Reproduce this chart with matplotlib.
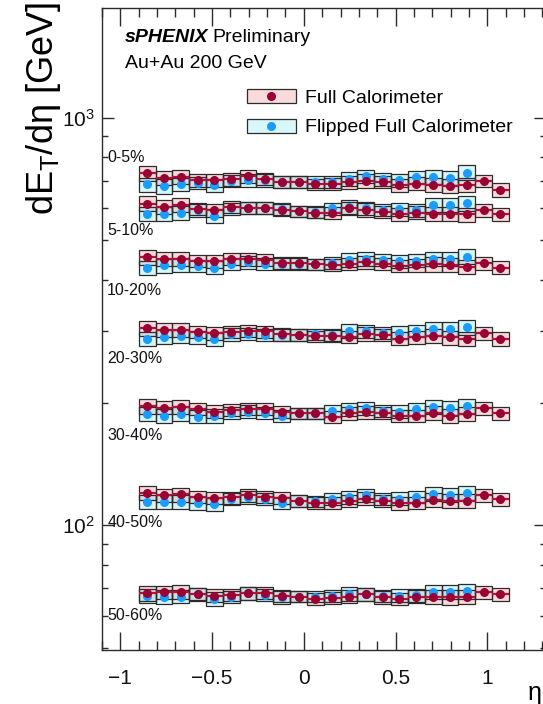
import numpy as np
import matplotlib.pyplot as plt
from matplotlib.patches import Rectangle
from matplotlib.lines import Line2D
from matplotlib.legend_handler import HandlerTuple
from matplotlib.ticker import LogLocator, MultipleLocator, NullFormatter

plt.rcParams['font.family'] = ['Liberation Sans', 'DejaVu Sans']
plt.rcParams['mathtext.fontset'] = 'custom'
plt.rcParams['mathtext.rm'] = 'Liberation Sans'
plt.rcParams['mathtext.it'] = 'Liberation Sans:italic'

# eta binning (22 bins shown for the full calorimeter, 20 for the flipped one)
eta_lo, eta_w, n_bins = -0.9, 0.0917, 22
eta_edges = eta_lo + eta_w * np.arange(n_bins + 1)
eta = 0.5 * (eta_edges[:-1] + eta_edges[1:])
n_flip = 20

centralities = ['0-5%', '5-10%', '10-20%', '20-30%', '30-40%', '40-50%', '50-60%']

full_vals = [
    [730, 712, 716, 702, 702, 706, 719, 709, 696, 696, 687, 689, 695, 700, 695, 683, 689, 683, 680, 683, 700, 666],
    [616, 604, 610, 596, 593, 604, 601, 601, 593, 590, 585, 584, 599, 595, 587, 579, 585, 582, 582, 579, 593, 580],
    [455, 450, 450, 445, 444, 450, 450, 448, 441, 440, 437, 435, 438, 442, 438, 433, 435, 437, 435, 431, 440, 429],
    [305, 302, 302, 298, 296, 298, 300, 299, 294, 293, 291, 292, 290, 295, 293, 287, 289, 292, 289, 287, 296, 287],
    [196.2, 194.4, 194.8, 192.6, 190.1, 191.8, 192.9, 192.6, 190.1, 188.3, 188.3, 184.8, 188.3, 189.3, 189.0, 185.4,
     185.4, 188.3, 185.4, 187.5, 193.7, 188.3],
    [120.1, 118.5, 119.0, 117.4, 116.7, 117.0, 118.5, 117.4, 116.7, 114.7, 113.5, 113.7, 114.7, 116.3, 114.7, 113.1,
     113.5, 115.2, 114.7, 114.7, 118.5, 115.7],
    [68.1, 68.4, 68.5, 67.7, 67.2, 67.4, 68.1, 68.1, 67.1, 66.8, 65.9, 66.2, 66.8, 67.7, 66.5, 65.9, 66.8, 66.6, 66.5,
     66.8, 68.5, 67.7],
]

flip_vals = [
    [686, 679, 686, 692, 683, 700, 702, 702, 696, 696, 696, 696, 709, 719, 706, 702, 714, 716, 712, 733],
    [582, 580, 584, 593, 574, 599, 601, 601, 596, 590, 587, 599, 604, 599, 595, 596, 593, 610, 610, 618],
    [429, 434, 435, 433, 429, 438, 442, 438, 438, 438, 437, 440, 448, 450, 448, 444, 446, 450, 450, 456],
    [287, 290, 291, 289, 287, 294, 295, 293, 293, 293, 294, 293, 300, 299, 297, 297, 300, 303, 303, 306],
    [187.5, 185.4, 187.5, 184.8, 185.4, 189.0, 190.1, 189.0, 185.4, 188.3, 188.3, 191.2, 192.6, 193.7, 190.8, 190.1,
     192.6, 195.5, 193.7, 196.2],
    [114.1, 114.1, 114.1, 113.1, 112.6, 116.3, 117.0, 116.3, 113.5, 114.7, 114.6, 116.3, 117.0, 118.5, 115.8, 116.3,
     117.4, 119.2, 118.5, 120.1],
    [67.2, 66.8, 66.8, 67.7, 65.9, 66.8, 68.1, 67.4, 66.5, 66.8, 66.8, 67.2, 67.8, 67.7, 67.2, 67.2, 67.4, 68.5, 68.5,
     68.9],
]

# relative systematic uncertainty per eta bin
full_syst = [0.042, 0.038, 0.040, 0.034, 0.036, 0.034, 0.036, 0.034, 0.034, 0.032, 0.032,
             0.034, 0.036, 0.038, 0.034, 0.036, 0.036, 0.040, 0.040, 0.040, 0.036, 0.038]
flip_syst = [0.040, 0.040, 0.038, 0.036, 0.038, 0.034, 0.036, 0.034, 0.034, 0.032, 0.032,
             0.034, 0.038, 0.038, 0.034, 0.038, 0.036, 0.040, 0.040, 0.042]

# label anchors (y in GeV) for each centrality class
label_y = [800, 530, 377, 257, 166, 101.7, 60]

red = '#990033'
red_line = '#b3103f'
blue = '#1a9cff'
red_fill = '#f08080'
blue_fill = '#70e4f0'
frame = '#2b2b2b'
fill_alpha = 0.28

W, H = 543, 704
fig = plt.figure(figsize=(W / 100, H / 100), dpi=100)
ax = fig.add_axes([102 / W, 1 - 650 / H, 444 / W, 642 / H])

for k in range(len(centralities)):
    fv = np.array(full_vals[k])
    sv = np.array(flip_vals[k])
    fe = fv * np.array(full_syst)
    se = sv * np.array(flip_syst)
    ax.bar(eta, 2 * fe, bottom=fv - fe, width=eta_w, color=red_fill, alpha=fill_alpha,
           zorder=2)
    ax.bar(eta, 2 * fe, bottom=fv - fe, width=eta_w, fill=False, edgecolor=frame,
           linewidth=0.9, zorder=3)
    ax.bar(eta[:n_flip], 2 * se, bottom=sv - se, width=eta_w, color=blue_fill,
           alpha=fill_alpha, zorder=2)
    ax.bar(eta[:n_flip], 2 * se, bottom=sv - se, width=eta_w, fill=False,
           edgecolor=frame, linewidth=0.9, zorder=3)
    ax.plot(eta[:n_flip], sv, 'o', color=blue, ms=5.5, zorder=4)
    ax.errorbar(eta, fv, xerr=eta_w / 2, fmt='o', color=red, ecolor=red_line, ms=5.5,
                elinewidth=1.6, capsize=0, zorder=5)
    ax.text(-1.072, label_y[k], centralities[k], fontsize=11.5, ha='left', va='center',
            color='#111111')

ax.set_yscale('log')
ax.set_xlim(-1.1, 1.32)
ax.set_ylim(49.4, 1860)

ax.xaxis.set_major_locator(MultipleLocator(0.5))
ax.xaxis.set_minor_locator(MultipleLocator(0.1))
ax.yaxis.set_major_locator(LogLocator(base=10))
ax.yaxis.set_minor_locator(LogLocator(base=10, subs=np.arange(2, 10)))
ax.yaxis.set_minor_formatter(NullFormatter())

ax.tick_params(which='both', direction='in', top=True, right=True, color=frame,
               width=1.0, labelsize=15, labelcolor='#111111')
ax.tick_params(axis='x', which='major', length=13, pad=14)
ax.tick_params(axis='x', which='minor', length=6.5)
ax.tick_params(axis='y', which='major', length=8.5, pad=5)
ax.tick_params(axis='y', which='minor', length=4.3)
for sp in ax.spines.values():
    sp.set_color(frame)
    sp.set_linewidth(1.0)

ax.set_xticks([-1, -0.5, 0, 0.5, 1])
ax.set_xticklabels(['\u22121', '\u22120.5', '0', '0.5', '1'])

fig.text(125 / W, 1 - 38 / H, 'sPHENIX', fontsize=14, fontweight='bold',
         fontstyle='italic', va='center', ha='left')
fig.text(212 / W, 1 - 38 / H, 'Preliminary', fontsize=14, va='center', ha='left')
fig.text(125 / W, 1 - 64 / H, 'Au+Au 200 GeV', fontsize=14, va='center', ha='left')

fig.text(44 / W, 1 - 2 / H, 'dE$_{\\mathregular{T}}$/d\u03b7 [GeV]', fontsize=26,
         rotation=90, ha='center', va='top')
fig.text(542 / W, 1 - 693 / H, '\u03b7', fontsize=18, ha='right', va='center')

h_full = (Rectangle((0, 0), 1, 1, facecolor=red_fill, alpha=fill_alpha),
          Rectangle((0, 0), 1, 1, fill=False, edgecolor=frame, linewidth=0.9),
          Line2D([], [], marker='o', color=red, ms=5.5, ls='none'))
h_flip = (Rectangle((0, 0), 1, 1, facecolor=blue_fill, alpha=fill_alpha),
          Rectangle((0, 0), 1, 1, fill=False, edgecolor=frame, linewidth=0.9),
          Line2D([], [], marker='o', color=blue, ms=5.5, ls='none'))
ax.legend([h_full, h_flip], ['Full Calorimeter', 'Flipped Full Calorimeter'],
          handler_map={tuple: HandlerTuple(ndivide=1, pad=0)},
          loc='upper left', bbox_to_anchor=(247 / W, 1 - 89 / H),
          bbox_transform=fig.transFigure, frameon=False, fontsize=14,
          borderpad=0, borderaxespad=0, handlelength=2.5, handleheight=0.75,
          handletextpad=0.5, labelspacing=0.6)

fig.savefig('out.png', dpi=100)
